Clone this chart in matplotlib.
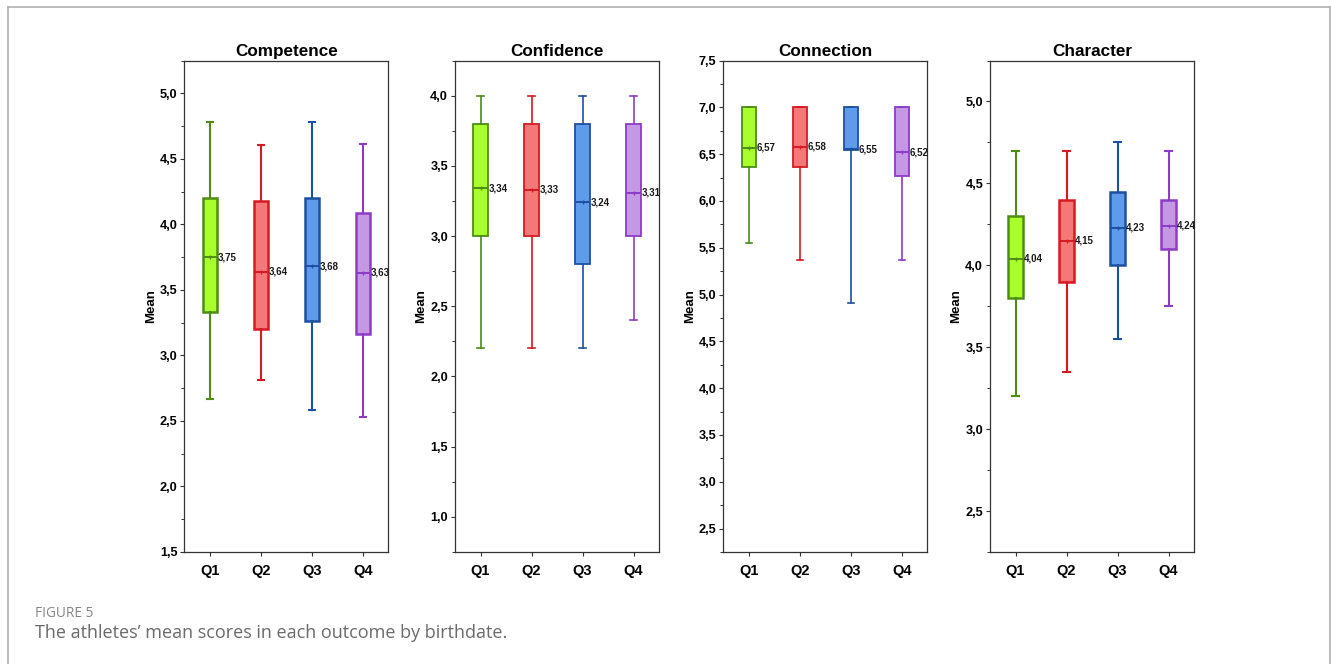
import numpy as np
import matplotlib
matplotlib.use("Agg")
import matplotlib.pyplot as plt
from matplotlib.lines import Line2D
from matplotlib.ticker import MultipleLocator, FuncFormatter

plt.rcParams["font.family"] = ["Liberation Sans", "DejaVu Sans"]

# ---------------- data ----------------
groups = ["Q1", "Q2", "Q3", "Q4"]
panels = ["Competence", "Confidence", "Connection", "Character"]

# each list: Q1..Q4
competence_whislo = [2.665, 2.81, 2.58, 2.53]
competence_q1 = [3.333, 3.20, 3.266, 3.16]
competence_mean = [3.75, 3.64, 3.68, 3.63]
competence_q3 = [4.20, 4.18, 4.20, 4.085]
competence_whishi = [4.78, 4.605, 4.78, 4.613]

confidence_whislo = [2.2, 2.2, 2.2, 2.4]
confidence_q1 = [3.0, 3.0, 2.8, 3.0]
confidence_mean = [3.34, 3.33, 3.24, 3.31]
confidence_q3 = [3.8, 3.8, 3.8, 3.8]
confidence_whishi = [4.0, 4.0, 4.0, 4.0]

connection_whislo = [5.548, 5.364, 4.91, 5.364]
connection_q1 = [6.366, 6.366, 6.54, 6.27]
connection_mean = [6.57, 6.58, 6.55, 6.52]
connection_q3 = [7.0, 7.0, 7.0, 7.0]
connection_whishi = [7.0, 7.0, 7.0, 7.0]

character_whislo = [3.2, 3.35, 3.55, 3.75]
character_q1 = [3.8, 3.9, 4.0, 4.1]
character_mean = [4.04, 4.15, 4.23, 4.24]
character_q3 = [4.3, 4.4, 4.45, 4.4]
character_whishi = [4.7, 4.7, 4.75, 4.7]

panel_data = [
    (competence_whislo, competence_q1, competence_mean, competence_q3, competence_whishi),
    (confidence_whislo, confidence_q1, confidence_mean, confidence_q3, confidence_whishi),
    (connection_whislo, connection_q1, connection_mean, connection_q3, connection_whishi),
    (character_whislo, character_q1, character_mean, character_q3, character_whishi),
]
ylims = [(1.5, 5.25), (0.75, 4.25), (2.25, 7.5), (2.25, 5.25)]

# ---------------- styles ----------------
fill_colors = ["#a8ff2c", "#f47878", "#5f9beb", "#c598e4"]
edge_colors = ["#4e8c14", "#d61a22", "#1e50a0", "#8c3cc8"]
box_lw = [1.8, 1.3, 1.3, 1.8]
whisk_lw = [1.5, 1.2, 1.2, 1.5]

W, H = 1331, 664
fig = plt.figure(figsize=(W / 100, H / 100), dpi=100)

# thin grey frame around the figure (open at the bottom, like the page crop)
frame_c = "#b0b0b0"
fig.add_artist(Line2D([7.5 / W, 7.5 / W], [0, 1 - 6.7 / H], color=frame_c, lw=1.2))
fig.add_artist(Line2D([7.5 / W, 1330 / W], [1 - 6.7 / H, 1 - 6.7 / H], color=frame_c, lw=1.2))
fig.add_artist(Line2D([1330 / W, 1330 / W], [0, 1 - 6.7 / H], color=frame_c, lw=1.2))

lefts = [184.3, 455, 723.3, 990]
ax_w = 204
ax_top, ax_bot = 60.5, 552

comma = FuncFormatter(lambda v, p: f"{v:.1f}".replace(".", ","))
positions = np.arange(1, len(groups) + 1)

for k, name in enumerate(panels):
    ax = fig.add_axes([lefts[k] / W, 1 - ax_bot / H, ax_w / W, (ax_bot - ax_top) / H])
    lo, q1, mn, q3, hi = panel_data[k]
    for i in range(len(groups)):
        stats = [dict(whislo=lo[i], q1=q1[i], med=mn[i], q3=q3[i], whishi=hi[i],
                      mean=mn[i], fliers=[])]
        ec = edge_colors[i]
        ax.bxp(stats, positions=[positions[i]], widths=0.275, capwidths=0.12,
               patch_artist=True, showmeans=True, showfliers=False,
               boxprops=dict(facecolor=fill_colors[i], edgecolor=ec, linewidth=box_lw[k]),
               medianprops=dict(color=ec, linewidth=1.4),
               whiskerprops=dict(color=ec, linewidth=whisk_lw[k]),
               capprops=dict(color=ec, linewidth=whisk_lw[k]),
               meanprops=dict(marker="+", markeredgecolor=ec, markersize=3.5,
                              markeredgewidth=0.9))
        ax.text(positions[i] + 0.155, mn[i], f"{mn[i]:.2f}".replace(".", ","),
                fontsize=7, fontweight="bold", va="center", ha="left", color="#1a1a1a")

    ax.set_xlim(0.5, 4.5)
    ax.set_ylim(*ylims[k])
    ax.set_xticks(positions)
    ax.set_xticklabels(groups, fontsize=10.5, fontweight="bold")
    ax.yaxis.set_major_locator(MultipleLocator(0.5))
    ax.yaxis.set_minor_locator(MultipleLocator(0.25))
    ax.yaxis.set_major_formatter(comma)
    for lab in ax.get_yticklabels():
        lab.set_fontweight("bold")
        lab.set_fontsize(9.2)
    ax.tick_params(axis="y", which="major", direction="out", length=3, width=0.8,
                   color="#333333", pad=2)
    ax.tick_params(axis="y", which="minor", direction="out", length=2, width=0.7,
                   color="#333333")
    ax.tick_params(axis="x", direction="out", length=3, width=0.8, color="#333333", pad=6)
    for s in ax.spines.values():
        s.set_color("#333333")
        s.set_linewidth(0.9)
    ax.set_ylabel("Mean", fontsize=9.5, fontweight="bold", labelpad=2)
    ax.set_title(name, fontsize=12.3, fontweight="bold", pad=3)

# caption
fig.text(35 / W, 1 - 617 / H, "FIGURE 5", fontsize=9.8, color="#858585",
         family=["Open Sans", "DejaVu Sans"], va="baseline")
fig.text(35 / W, 1 - 638 / H, "The athletes\u2019 mean scores in each outcome by birthdate.",
         fontsize=13, color="#6a6a6a", family=["Open Sans", "DejaVu Sans"], va="baseline")

fig.savefig("out.png", dpi=100)
